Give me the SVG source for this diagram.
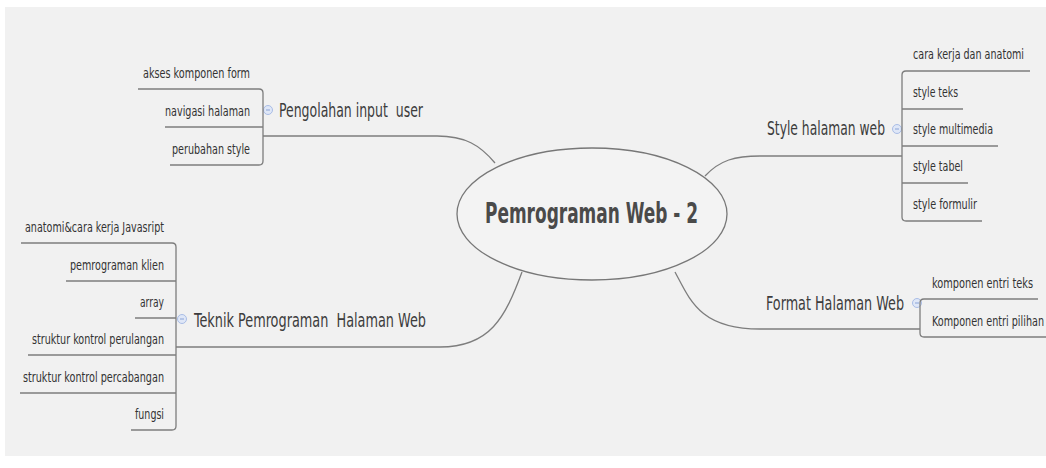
<svg xmlns="http://www.w3.org/2000/svg" width="1046" height="468" viewBox="0 0 1046 468">
<defs>
<style>
.bg{fill:#f1f1f1}
.ln{fill:none;stroke:#7d7d7d;stroke-width:1.3}
.sub{font-family:"Liberation Sans Narrow","DejaVu Sans Condensed","Liberation Sans",sans-serif;font-size:14px;fill:#333}
.top{font-family:"Liberation Sans Narrow","DejaVu Sans Condensed","Liberation Sans",sans-serif;font-size:19px;fill:#3c3c3c;white-space:pre}
.ctr{font-family:"Liberation Sans Narrow","DejaVu Sans Condensed","Liberation Sans",sans-serif;font-size:29px;font-weight:bold;fill:#4a4a4a}
.tog{fill:#dfe7f7;stroke:#a9bde6;stroke-width:1}
.togm{stroke:#8aa3d6;stroke-width:1}
</style>
</defs>
<rect x="0" y="0" width="1046" height="468" fill="#ffffff"/>
<rect class="bg" x="5" y="7" width="1041" height="449"/>

<g id="connectors">
<path class="ln" d="M495 163 C480 145 465 136 437 136 L263 136"/>
<path class="ln" d="M522 272 C505 318 490 347 440 347 L176 347"/>
<path class="ln" d="M705 176 C720 160 735 156 760 156 L902 156"/>
<path class="ln" d="M675 272 C690 300 700 329 760 329 L920 329"/>
</g>

<g id="center">
<ellipse cx="592" cy="214" rx="135" ry="66" fill="#f3f3f3" stroke="#777" stroke-width="1.3"/>
<text class="ctr" x="485" y="223" textLength="213" lengthAdjust="spacingAndGlyphs">Pemrograman Web - 2</text>
</g>

<g id="topic-pengolahan">
<text class="top" x="279" y="117" textLength="144" lengthAdjust="spacingAndGlyphs">Pengolahan input  user</text>
<circle class="tog" cx="268" cy="110" r="4.5"/>
<line class="togm" x1="266" y1="110" x2="270" y2="110"/>
<path class="ln" d="M138 89 L259 89 Q263 89 263 93 L263 161 Q263 165 259 165 L170 165 M165 127 L263 127"/>
<text class="sub" x="250" y="78" text-anchor="end" textLength="107" lengthAdjust="spacingAndGlyphs">akses komponen form</text>
<text class="sub" x="250" y="116" text-anchor="end" textLength="85" lengthAdjust="spacingAndGlyphs">navigasi halaman</text>
<text class="sub" x="250" y="154" text-anchor="end" textLength="78" lengthAdjust="spacingAndGlyphs">perubahan style</text>
</g>

<g id="topic-teknik">
<text class="top" x="194" y="327" textLength="232" lengthAdjust="spacingAndGlyphs">Teknik Pemrograman  Halaman Web</text>
<circle class="tog" cx="182" cy="319" r="4.5"/>
<line class="togm" x1="180" y1="319" x2="184" y2="319"/>
<path class="ln" d="M21 243 L172 243 Q176 243 176 247 L176 426 Q176 430 172 430 L131 430 M66 281 L176 281 M135 318 L176 318 M28 355 L176 355 M20 393 L176 393"/>
<text class="sub" x="164" y="232" text-anchor="end" textLength="139" lengthAdjust="spacingAndGlyphs">anatomi&amp;cara kerja Javasript</text>
<text class="sub" x="164" y="270" text-anchor="end" textLength="94" lengthAdjust="spacingAndGlyphs">pemrograman klien</text>
<text class="sub" x="164" y="307" text-anchor="end" textLength="24" lengthAdjust="spacingAndGlyphs">array</text>
<text class="sub" x="164" y="344" text-anchor="end" textLength="132" lengthAdjust="spacingAndGlyphs">struktur kontrol perulangan</text>
<text class="sub" x="164" y="382" text-anchor="end" textLength="141" lengthAdjust="spacingAndGlyphs">struktur kontrol percabangan</text>
<text class="sub" x="164" y="419" text-anchor="end" textLength="29" lengthAdjust="spacingAndGlyphs">fungsi</text>
</g>

<g id="topic-style">
<text class="top" x="767" y="135" textLength="118" lengthAdjust="spacingAndGlyphs">Style halaman web</text>
<circle class="tog" cx="897" cy="129" r="4.5"/>
<line class="togm" x1="895" y1="129" x2="899" y2="129"/>
<path class="ln" d="M1030 71 L906 71 Q902 71 902 75 L902 217 Q902 221 906 221 L982 221 M902 109 L963 109 M902 146 L998 146 M902 183 L968 183"/>
<text class="sub" x="913" y="59" textLength="111" lengthAdjust="spacingAndGlyphs">cara kerja dan anatomi</text>
<text class="sub" x="913" y="97" textLength="45" lengthAdjust="spacingAndGlyphs">style teks</text>
<text class="sub" x="913" y="134" textLength="80" lengthAdjust="spacingAndGlyphs">style multimedia</text>
<text class="sub" x="913" y="171" textLength="50" lengthAdjust="spacingAndGlyphs">style tabel</text>
<text class="sub" x="913" y="209" textLength="64" lengthAdjust="spacingAndGlyphs">style formulir</text>
</g>

<g id="topic-format">
<text class="top" x="766" y="310" textLength="138" lengthAdjust="spacingAndGlyphs">Format Halaman Web</text>
<circle class="tog" cx="917" cy="303" r="4.5"/>
<line class="togm" x1="915" y1="303" x2="919" y2="303"/>
<path class="ln" d="M1038 299 L924 299 Q920 299 920 303 L920 333 Q920 337 924 337 L1046 337"/>
<text class="sub" x="932" y="288" textLength="101" lengthAdjust="spacingAndGlyphs">komponen entri teks</text>
<text class="sub" x="932" y="326" textLength="112" lengthAdjust="spacingAndGlyphs">Komponen entri pilihan</text>
</g>
</svg>
